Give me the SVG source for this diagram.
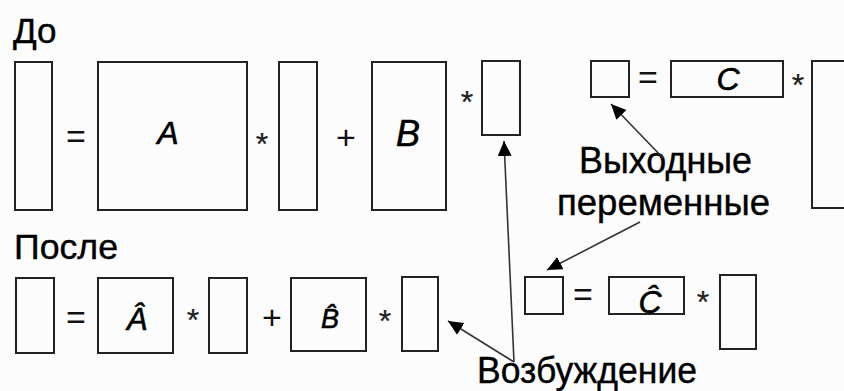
<svg xmlns="http://www.w3.org/2000/svg" width="844" height="391" viewBox="0 0 844 391">
  <style>
    .box { fill: none; stroke: #222; stroke-width: 2; }
    .op { font-family: "Liberation Sans", Arial, sans-serif; font-size: 34px; fill: #111; text-anchor: middle; }
    .star { font-family: "Liberation Sans", Arial, sans-serif; font-size: 32px; fill: #222; stroke: #222; stroke-width: 0.25; text-anchor: middle; }
    .sym { font-family: "Liberation Sans", Arial, sans-serif; font-style: italic; fill: #000; text-anchor: middle; stroke: #000; stroke-width: 0.6; }
    .title { font-family: "Liberation Sans", Arial, sans-serif; font-size: 35px; fill: #000; stroke: #000; stroke-width: 0.4; }
    .label { font-family: "Liberation Sans", Arial, sans-serif; font-size: 36px; fill: #000; stroke: #000; stroke-width: 0.4; }
    .conn { fill: none; stroke: #333; stroke-width: 1.6; }
  </style>
  <defs>
    <marker id="head" markerUnits="userSpaceOnUse" markerWidth="16" markerHeight="16" refX="15" refY="7" orient="auto">
      <path d="M0,0 L15,7 L0,14 Z" fill="#000"/>
    </marker>
  </defs>

  <rect width="844" height="391" fill="#fcfcfc"/>

  <!-- titles -->
  <text id="title-before" class="title" x="13" y="43">До</text>
  <text id="title-after" class="title" x="14" y="259" textLength="104" lengthAdjust="spacingAndGlyphs">После</text>

  <!-- state equation, before -->
  <g id="x-dot"><rect class="box" x="15" y="62" width="37" height="148"/></g>
  <text class="op" x="76" y="148">=</text>
  <g id="matrix-a"><rect class="box" x="98" y="62" width="149" height="148"/><text class="sym" x="168" y="144" font-size="32">A</text></g>
  <text class="star" x="262" y="155">*</text>
  <g id="x"><rect class="box" x="279" y="62" width="38" height="148"/></g>
  <text class="op" x="346" y="149">+</text>
  <g id="matrix-b"><rect class="box" x="372" y="62" width="74" height="148"/><text class="sym" x="408" y="146" font-size="36">B</text></g>
  <text class="star" x="467" y="113">*</text>
  <g id="u"><rect class="box" x="482" y="61" width="38" height="74"/></g>

  <!-- output equation, before -->
  <g id="y"><rect class="box" x="591" y="61" width="38" height="36"/></g>
  <text class="op" x="648" y="89">=</text>
  <g id="matrix-c"><rect class="box" x="671" y="61" width="112" height="36"/><text class="sym" x="728" y="90" font-size="32">C</text></g>
  <text class="star" x="798" y="96">*</text>
  <g id="x-out"><rect class="box" x="812" y="61" width="60" height="147"/></g>

  <!-- state equation, after -->
  <g id="x-dot-hat"><rect class="box" x="16" y="278" width="38" height="75"/></g>
  <text class="op" x="76" y="329">=</text>
  <g id="matrix-a-hat"><rect class="box" x="98" y="278" width="75" height="75"/><text class="sym" x="137" y="330" font-size="31">Â</text></g>
  <text class="star" x="193" y="331">*</text>
  <g id="x-hat"><rect class="box" x="209" y="278" width="38" height="75"/></g>
  <text class="op" x="272" y="329">+</text>
  <g id="matrix-b-hat"><rect class="box" x="291" y="278" width="75" height="73"/><text class="sym" x="330" y="328" font-size="27">B̂</text></g>
  <text class="star" x="385" y="332">*</text>
  <g id="u-hat"><rect class="box" x="402" y="277" width="36" height="74"/></g>

  <!-- output equation, after -->
  <g id="y-hat"><rect class="box" x="525" y="277" width="38" height="37"/></g>
  <text class="op" x="583" y="306">=</text>
  <g id="matrix-c-hat"><rect class="box" x="609" y="277" width="75" height="37"/><text class="sym" x="650" y="313" font-size="32">Ĉ</text></g>
  <text class="star" x="703" y="313">*</text>
  <g id="x-hat-out"><rect class="box" x="720" y="275" width="36" height="74"/></g>

  <!-- annotations -->
  <g id="label-outputs">
    <text class="label" x="579" y="173" textLength="173" lengthAdjust="spacingAndGlyphs">Выходные</text>
    <text class="label" x="557" y="215" textLength="213" lengthAdjust="spacingAndGlyphs">переменные</text>
  </g>
  <g id="label-excitation">
    <text class="label" x="477" y="383" textLength="220" lengthAdjust="spacingAndGlyphs">Возбуждение</text>
  </g>

  <g id="connectors">
    <path class="conn" d="M514,362 L504,141" marker-end="url(#head)"/>
    <path class="conn" d="M514,362 L448,321" marker-end="url(#head)"/>
    <path class="conn" d="M663,158 L611,104" marker-end="url(#head)"/>
    <path class="conn" d="M640,222 L547,270" marker-end="url(#head)"/>
  </g>
</svg>
